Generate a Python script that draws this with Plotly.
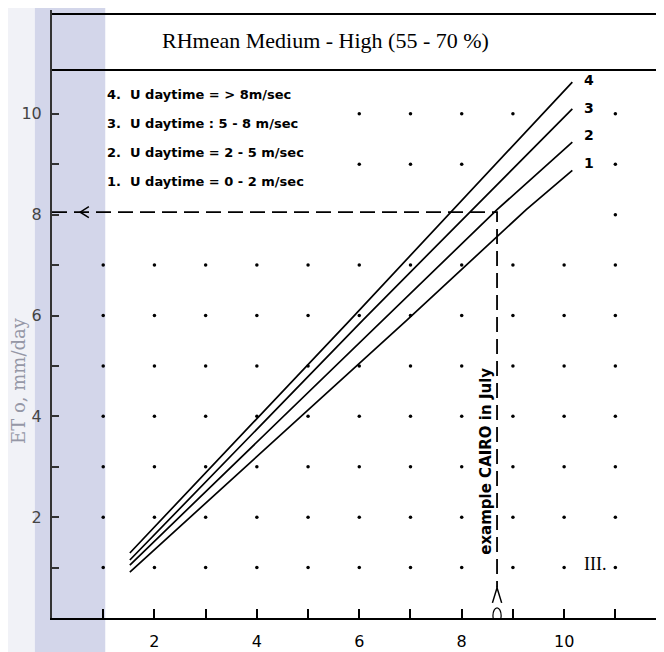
import plotly.graph_objects as go

# ---- data ----
curve1_x = [1.52, 6.93, 9.26, 10.16]
curve1_y = [0.91, 5.91, 8.10, 8.88]
curve2_x = [1.52, 6.46, 8.69, 10.16]
curve2_y = [1.05, 5.91, 8.10, 9.44]
curve3_x = [1.52, 6.07, 10.16]
curve3_y = [1.15, 5.91, 10.10]
curve4_x = [1.52, 5.82, 10.16]
curve4_y = [1.29, 5.91, 10.63]
curve_names = ["1", "2", "3", "4"]

legend_lines = [
    "4.  U daytime = > 8m/sec",
    "3.  U daytime : 5 - 8 m/sec",
    "2.  U daytime = 2 - 5 m/sec",
    "1.  U daytime = 0 - 2 m/sec",
]

example_x = [0, 8.69, 8.69]
example_y = [8.05, 8.05, 0.6]

x_tick_vals = [2, 4, 6, 8, 10]
y_tick_vals = [2, 4, 6, 8, 10]

dot_cols = [1, 2, 3, 4, 5, 6, 7, 8, 9, 10, 11]
dot_rows = [1, 2, 3, 4, 5, 6, 7, 8, 9, 10]

title_text = "RHmean Medium - High (55 - 70 %)"

# ---- figure ----
fig = go.Figure()

# grid dots (omit those under the legend text, under the dashed guide and beside the curve ends)
hidden = {(10, 8), (10, 9), (10, 10), (9, 9)}
dx, dy = [], []
for r in dot_rows:
    for c in dot_cols:
        if c <= 5 and r >= 9:
            continue
        if r == 8 and c <= 9:
            continue
        if (c, r) in hidden:
            continue
        dx.append(c)
        dy.append(r)
fig.add_trace(go.Scatter(x=dx, y=dy, mode="markers",
                         marker=dict(size=3.5, color="black"),
                         hoverinfo="skip", showlegend=False))

# example dashed guide
fig.add_trace(go.Scatter(x=example_x, y=example_y, mode="lines",
                         line=dict(color="black", width=1.8, dash="15px,7px"),
                         hoverinfo="skip", showlegend=False))

# curves
label_shift = {"1": 7, "2": 7, "3": 1, "4": 2}
for cx, cy, nm in [(curve1_x, curve1_y, "1"), (curve2_x, curve2_y, "2"),
                   (curve3_x, curve3_y, "3"), (curve4_x, curve4_y, "4")]:
    fig.add_trace(go.Scatter(x=cx, y=cy, mode="lines", name=nm,
                             line=dict(color="black", width=1.7),
                             showlegend=False))
    fig.add_annotation(x=cx[-1], y=cy[-1], text="<b>" + nm + "</b>", showarrow=False,
                       xanchor="left", yanchor="middle", xshift=10, yshift=label_shift[nm],
                       font=dict(family="DejaVu Sans", size=14, color="black"))

# legend text block
for i, t in enumerate(legend_lines):
    fig.add_annotation(x=0, y=1, xref="paper", yref="paper", text=t, showarrow=False,
                       xanchor="left", yanchor="middle",
                       xshift=53, yshift=-(84 + 29 * i),
                       font=dict(family="DejaVu Sans", size=13, color="black", weight="bold"))

# title
fig.add_annotation(x=5.35, y=11.45, text=title_text, showarrow=False,
                   xanchor="center", yanchor="middle",
                   font=dict(family="Liberation Serif", size=22, color="black"))

# rotated example text
fig.add_annotation(x=8.69, y=3.1, text="<b>example CAIRO in July</b>", showarrow=False,
                   textangle=-90, xanchor="center", yanchor="middle", xshift=-11,
                   font=dict(family="DejaVu Sans", size=15, color="black"))

fig.add_annotation(x=10.6, y=1.08, text="III.", showarrow=False,
                   xanchor="center", yanchor="middle",
                   font=dict(family="Liberation Serif", size=18, color="black"))

# y-axis title
fig.add_annotation(x=0, y=0.39, xref="paper", yref="paper", text="ET o, mm/day",
                   showarrow=False, textangle=-90, xanchor="center", yanchor="middle",
                   xshift=-33, font=dict(family="DejaVu Serif", size=18, color="#9597a6"))

shapes = [
    # watermark band
    dict(type="rect", xref="paper", yref="paper", x0=-0.1, x1=-0.028, y0=-0.1, y1=1.1,
         fillcolor="#f1f2f7", line=dict(width=0), layer="below"),
    dict(type="rect", xref="paper", yref="paper", x0=-0.028, x1=0.087, y0=-0.1, y1=1.1,
         fillcolor="#d3d6ea", line=dict(width=0), layer="below"),
    # title box lines
    dict(type="line", xref="paper", yref="y", x0=0, x1=1, y0=10.87, y1=10.87,
         line=dict(color="black", width=2)),
    dict(type="line", xref="paper", yref="y", x0=0, x1=1, y0=11.98, y1=11.98,
         line=dict(color="black", width=2)),
    # left arrow of the example guide
    dict(type="path", xref="x", yref="y", path="M 0.72 8.16 L 0.55 8.05 L 0.72 7.94",
         line=dict(color="black", width=1.5)),
    # bottom arrow of the example guide
    dict(type="path", xref="x", yref="y", path="M 8.60 0.30 L 8.69 0.60 L 8.78 0.30",
         line=dict(color="black", width=1.5)),
    dict(type="circle", xref="x", yref="y", x0=8.61, x1=8.77, y0=-0.1, y1=0.2,
         line=dict(color="black", width=1.2)),
]

fig.update_layout(
    width=664, height=652,
    margin=dict(l=44, r=8, t=2, b=42),
    paper_bgcolor="white", plot_bgcolor="rgba(0,0,0,0)",
    showlegend=False,
    shapes=shapes,
    xaxis=dict(range=[0, 11.95], showgrid=False, zeroline=False,
               showline=True, linecolor="black", linewidth=2,
               ticks="inside", ticklen=9, tickwidth=1.5, tickcolor="black",
               tickvals=list(range(1, 12)),
               ticktext=[str(v) if v in x_tick_vals else "" for v in range(1, 12)],
               ticklabelstandoff=8,
               tickfont=dict(family="DejaVu Sans", size=16, color="black")),
    yaxis=dict(range=[0, 12.06], showgrid=False, zeroline=False,
               showline=True, linecolor="#333333", linewidth=2,
               ticks="inside", ticklen=7, tickwidth=1.5, tickcolor="#333333",
               tickvals=list(range(1, 11)),
               ticktext=[str(v) if v in y_tick_vals else "" for v in range(1, 11)],
               ticklabelstandoff=5,
               tickfont=dict(family="DejaVu Sans", size=16, color="#444444")),
)

fig.write_html("out.html")
